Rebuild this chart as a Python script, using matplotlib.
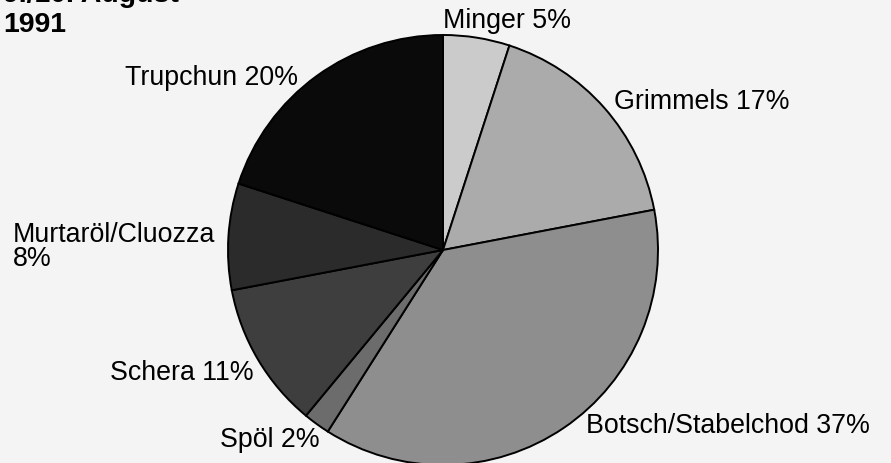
import matplotlib.pyplot as plt

labels = ["Minger 5%", "Grimmels 17%", "Botsch/Stabelchod 37%", "Spöl 2%",
          "Schera 11%", "Murtaröl/Cluozza\n8%", "Trupchun 20%"]
shares = [5, 17, 37, 2, 11, 8, 20]
greys = ["#cbcbcb", "#ababab", "#8e8e8e", "#6c6c6c", "#3e3e3e", "#2b2b2b", "#0a0a0a"]

# label anchor points in pixels (left edge, baseline of last line), y from top
label_pos = [(443, 28), (614, 109), (586, 433), (220, 447),
             (110, 380), (13, 266), (125, 85)]

W, H = 891, 463
fonts = ["Liberation Sans", "DejaVu Sans"]

fig = plt.figure(figsize=(W / 100, H / 100), dpi=100)
fig.patch.set_facecolor("#f4f4f4")
ax = fig.add_axes([0, 0, 1, 1])
ax.set_aspect("equal")
ax.axis("off")

ax.pie(shares, colors=greys, startangle=90, counterclock=False,
       center=(443, H - 250), radius=215,
       wedgeprops=dict(edgecolor="black", linewidth=1.4))
ax.set_xlim(0, W)
ax.set_ylim(0, H)

for lab, (x, y) in zip(labels, label_pos):
    ax.text(x, H - y, lab, fontsize=19.3, ha="left", va="baseline",
            family=fonts, linespacing=0.92)

# title is cut off at the top edge, as in the original scan
ax.text(3, H - 32, "9./10. August\n1991", fontsize=20.5, fontweight="bold",
        ha="left", va="baseline", family=fonts, linespacing=1.18)

fig.savefig("out.png", dpi=100, facecolor=fig.get_facecolor())
